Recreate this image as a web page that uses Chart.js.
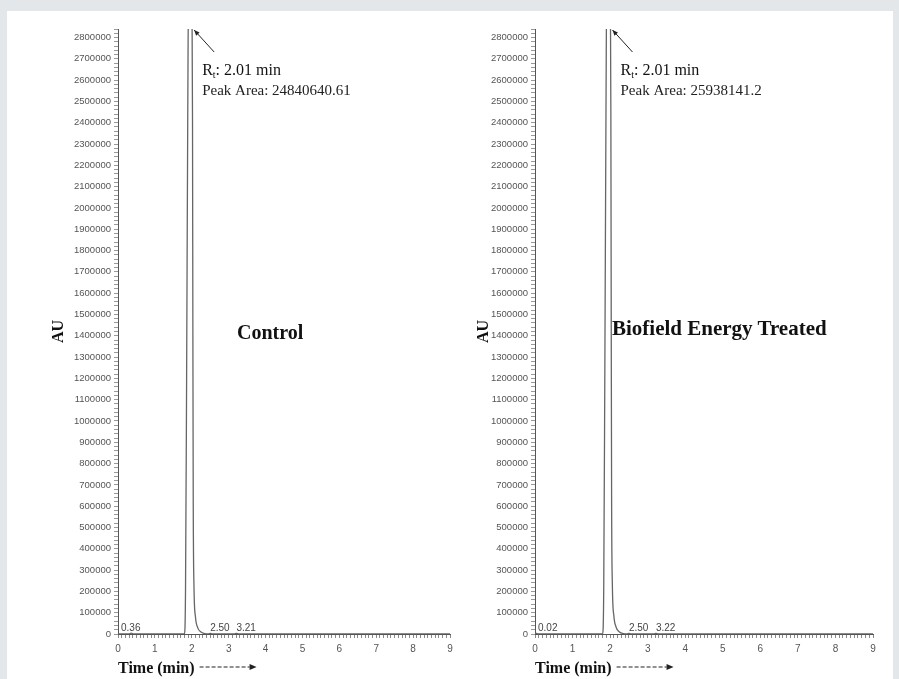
<!DOCTYPE html>
<html>
<head>
<meta charset="utf-8">
<script src="https://cdn.jsdelivr.net/npm/chart.js@4.4.1/dist/chart.umd.min.js"></script>
<style>
body{margin:0;width:899px;height:679px;background:#e4e7e9;position:relative;overflow:hidden;}
#panel{position:absolute;left:7px;top:11px;width:886px;height:668px;background:#fff;}
canvas{position:absolute;}
.name{position:absolute;font:bold 20px "Liberation Serif",serif;color:#111;white-space:nowrap;}
</style>
</head>
<body>
<div id="panel"></div>
<canvas id="leftChart" width="425" height="660" style="left:45px;top:18px"></canvas>
<canvas id="rightChart" width="423" height="660" style="left:470px;top:18px"></canvas>
<div class="name" style="left:237px;top:321px">Control</div>
<div class="name" style="left:612px;top:316px;font-size:21px">Biofield Energy Treated</div>
<script>
// control sample trace (time in min, AU)
const timeControl = [0, 0.30, 0.36, 0.42, 1.80, 1.83, 1.86, 1.89, 1.92, 2.00, 2.02, 2.03, 2.04, 2.06, 2.10, 2.16, 2.25, 2.35, 2.45, 2.50, 2.55, 3.15, 3.21, 3.27, 9];
const auControl   = [0, 0, 4000, 0, 0, 200000, 1200000, 2400000, 3200000, 3200000, 2400000, 1400000, 600000, 220000, 80000, 30000, 9000, 2000, 0, 3000, 0, 0, 2500, 0, 0];

// biofield energy treated sample trace
const timeTreated = [0, 0.02, 0.08, 1.80, 1.83, 1.86, 1.89, 1.92, 2.00, 2.02, 2.03, 2.04, 2.06, 2.10, 2.16, 2.25, 2.35, 2.45, 2.50, 2.55, 3.16, 3.22, 3.28, 9];
const auTreated   = [0, 4000, 0, 0, 210000, 1250000, 2450000, 3300000, 3300000, 2450000, 1450000, 620000, 230000, 85000, 32000, 9500, 2000, 0, 3000, 0, 0, 2500, 0, 0];

const peakTimesControl  = [0.36, 2.50, 3.21];
const peakLabelsControl = ["0.36", "2.50", "3.21"];
const peakTimesTreated  = [0.02, 2.50, 3.22];
const peakLabelsTreated = ["0.02", "2.50", "3.22"];

const rtControl = 2.01, areaControl = "24840640.61";
const rtTreated = 2.01, areaTreated = "25938141.2";

const yMax = 2840000;
const yMajor = 100000, yMinor = 20000;
const xMax = 9, xMinor = 0.1;

function points(ts, vs){
  return ts.map((t,i)=>({x:t, y:vs[i]}));
}

function isMultiple(v, step){
  const r = v / step;
  return Math.abs(r - Math.round(r)) < 1e-6;
}

const notes = {
  id:"notes",
  afterDraw(chart, args, o){
    const {ctx, chartArea:a} = chart;
    const x = chart.scales.x, y = chart.scales.y;
    ctx.save();
    // small peak retention labels
    ctx.font = '10px "Liberation Sans"';
    ctx.fillStyle = "#444";
    ctx.textAlign = "left";
    ctx.textBaseline = "alphabetic";
    const y0 = y.getPixelForValue(0);
    o.times.forEach((t,i)=>{
      const px = t < o.rt - 0.5 ? a.left + 3 : x.getPixelForValue(t);
      ctx.fillText(o.labels[i], px, y0 - 3);
    });
    // arrow to the main peak
    const px = x.getPixelForValue(o.rt);
    const ax = px + 2, ay = a.top + 1, bx = px + 22, by = a.top + 23;
    ctx.strokeStyle = "#222";
    ctx.fillStyle = "#222";
    ctx.lineWidth = 1;
    ctx.beginPath(); ctx.moveTo(ax, ay); ctx.lineTo(bx, by); ctx.stroke();
    const ang = Math.atan2(by - ay, bx - ax);
    ctx.beginPath();
    ctx.moveTo(ax, ay);
    ctx.lineTo(ax + 6*Math.cos(ang - 0.4), ay + 6*Math.sin(ang - 0.4));
    ctx.lineTo(ax + 6*Math.cos(ang + 0.4), ay + 6*Math.sin(ang + 0.4));
    ctx.fill();
    // Rt and area text
    const tx = px + 10;
    ctx.fillStyle = "#111";
    ctx.font = '16px "Liberation Serif"';
    ctx.fillText("R", tx, a.top + 46);
    let w = ctx.measureText("R").width;
    ctx.font = '10px "Liberation Serif"';
    ctx.fillText("t", tx + w, a.top + 49);
    w += ctx.measureText("t").width;
    ctx.font = '16px "Liberation Serif"';
    ctx.fillText(": " + o.rt.toFixed(2) + " min", tx + w, a.top + 46);
    ctx.font = '15px "Liberation Serif"';
    ctx.fillStyle = "#222";
    ctx.fillText("Peak Area: " + o.area, tx, a.top + 66);
    // dashed arrow after the x axis title
    ctx.font = 'bold 16px "Liberation Serif"';
    const dx = a.left + ctx.measureText("Time (min)").width + 5;
    const dy = chart.height - 11;
    ctx.setLineDash([4, 2]);
    ctx.beginPath(); ctx.moveTo(dx, dy); ctx.lineTo(dx + 50, dy); ctx.stroke();
    ctx.setLineDash([]);
    ctx.beginPath();
    ctx.moveTo(dx + 57, dy); ctx.lineTo(dx + 50, dy - 3); ctx.lineTo(dx + 50, dy + 3);
    ctx.fill();
    ctx.restore();
  }
};

function makeChart(id, ts, vs, yWidth, noteOpts){
  return new Chart(document.getElementById(id), {
    type:"line",
    data:{datasets:[{
      data:points(ts, vs),
      borderColor:"#666",
      borderWidth:1.3,
      pointRadius:0,
      cubicInterpolationMode:"monotone",
      fill:false
    }]},
    options:{
      responsive:false,
      animation:false,
      layout:{padding:{top:11, right:20, left:0, bottom:0}},
      plugins:{legend:{display:false}, tooltip:{enabled:false}, notes:noteOpts},
      scales:{
        x:{
          type:"linear", min:0, max:xMax,
          afterFit(s){ s.height = 44; },
          border:{color:"#555"},
          grid:{drawOnChartArea:false, tickLength:4, color:"#888"},
          ticks:{
            stepSize:xMinor, autoSkip:false, maxRotation:0, padding:5,
            color:"#555", font:{family:"Liberation Sans", size:10},
            callback:v => isMultiple(v, 1) ? String(Math.round(v)) : ""
          },
          title:{display:true, text:"Time (min)", align:"start",
            color:"#111", font:{family:"Liberation Serif", size:16, weight:"bold"},
            padding:{top:0, bottom:0}}
        },
        y:{
          min:0, max:yMax,
          afterFit(s){ s.width = yWidth; },
          border:{color:"#555"},
          grid:{drawOnChartArea:false, tickLength:4, color:"#999"},
          ticks:{
            stepSize:yMinor, autoSkip:false, padding:3,
            color:"#555", font:{family:"Liberation Sans", size:9.5},
            callback:v => isMultiple(v, yMajor) ? String(Math.round(v)) : ""
          },
          title:{display:true, text:"AU", color:"#111",
            font:{family:"Liberation Serif", size:16, weight:"bold"}}
        }
      }
    },
    plugins:[notes]
  });
}

makeChart("leftChart", timeControl, auControl, 73,
  {times:peakTimesControl, labels:peakLabelsControl, rt:rtControl, area:areaControl});
makeChart("rightChart", timeTreated, auTreated, 65,
  {times:peakTimesTreated, labels:peakLabelsTreated, rt:rtTreated, area:areaTreated});
</script>
</body>
</html>
